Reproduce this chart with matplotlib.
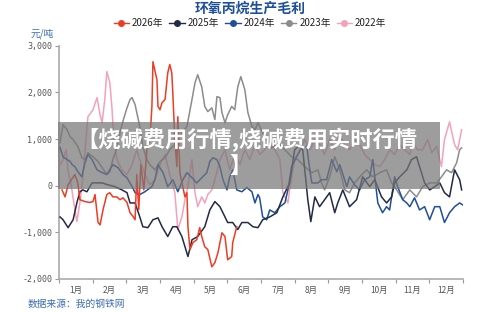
import numpy as np
import matplotlib.pyplot as plt
from matplotlib.lines import Line2D
from matplotlib.patches import Rectangle

plt.rcParams['font.family'] = ['Noto Sans CJK SC', 'DejaVu Sans']

# x positions are in months from 1 Jan (0 = start of Jan, 12 = end of Dec)
x_2026 = [0.09, 0.18, 0.27, 0.47, 0.56, 0.62, 0.77, 0.92, 1.01, 1.07, 1.16, 1.22, 1.31, 1.42, 1.51,
          1.60, 1.72, 1.81, 1.90, 2.02, 2.11, 2.20, 2.26, 2.31, 2.37, 2.43, 2.52, 2.61, 2.70, 2.76,
          2.79, 2.91, 2.94, 3.00, 3.06, 3.15, 3.23, 3.29, 3.35, 3.38, 3.44, 3.50, 3.53, 3.59, 3.74,
          3.80, 3.83, 3.89, 3.98, 4.09, 4.18, 4.24, 4.33, 4.42, 4.54, 4.63, 4.72, 4.84, 4.93, 5.01,
          5.13, 5.16, 5.28]
y_2026 = [-90, -240, 20, 240, 60, -300, -340, -360, -340, -190, -790, -840, -510, -190, -150,
          -240, -240, -300, -260, -360, -580, -660, -730, 240, -510, 450, -90, 770, 990, 1700,
          2660, 2270, 1700, 1630, 1780, 1850, 2420, 2600, 2420, 2000, 990, 410, 1480, 280, -240,
          -150, -880, -1370, -1220, -1160, -900, -1090, -1310, -1370, -1740, -1650, -1440, -1010, -1090, -1590,
          -1520, -1220, -880]

x_2025 = [0.03, 0.12, 0.27, 0.42, 0.53, 0.62, 0.71, 0.83, 0.98, 1.28, 1.45, 1.66, 1.87, 2.02, 2.11,
          2.26, 2.40, 2.49, 2.64, 2.79, 2.94, 3.06, 3.23, 3.38, 3.50, 3.65, 3.83, 3.95, 4.12, 4.33,
          4.48, 4.63, 4.78, 4.93, 5.01, 5.16, 5.31, 5.43, 5.61, 5.76, 5.91, 6.05, 6.26, 6.47, 6.65,
          6.85, 7.00, 7.15, 7.24, 7.39, 7.48, 7.60, 7.74, 7.89, 8.04, 8.19, 8.28, 8.43, 8.63, 8.84,
          9.02, 9.23, 9.38, 9.58, 9.73, 9.88, 9.97, 10.12, 10.33, 10.47, 10.62, 10.71, 10.86, 11.01, 11.16,
          11.31, 11.45, 11.60, 11.75, 11.90, 11.96]
y_2025 = [-670, -730, -900, -730, -370, -130, -90, -130, 60, 60, 20, -20, -90, -150, -370,
          -370, -670, -880, -900, -730, -690, -880, -1090, -880, -880, -1090, -1520, -1160, -1090, -880,
          -520, -340, -450, -670, -790, -790, -940, -790, -790, -880, -900, -730, -670, -580, -240,
          60, 770, 880, 770, -300, -770, -240, -450, -300, -150, -580, -370, -90, -450, -300,
          190, -20, 130, -240, -370, -240, 60, 190, 340, 560, 620, 410, 60, -90, -20,
          60, -150, -240, 340, 130, -90]

x_2024 = [0.03, 0.12, 0.24, 0.33, 0.39, 0.47, 0.56, 0.68, 0.77, 0.86, 0.98, 1.13, 1.28, 1.42, 1.60,
          1.75, 1.90, 2.02, 2.17, 2.26, 2.40, 2.55, 2.76, 2.85, 2.94, 3.09, 3.23, 3.38, 3.53, 3.68,
          3.80, 3.95, 4.09, 4.24, 4.39, 4.48, 4.57, 4.69, 4.78, 4.87, 4.99, 5.07, 5.16, 5.28, 5.43,
          5.58, 5.73, 5.82, 5.91, 5.96, 6.05, 6.17, 6.26, 6.41, 6.56, 6.71, 6.80, 6.91, 7.06, 7.21,
          7.36, 7.45, 7.51, 7.69, 7.80, 7.95, 8.10, 8.25, 8.34, 8.55, 8.63, 8.78, 8.93, 9.08, 9.23,
          9.32, 9.47, 9.61, 9.73, 9.82, 9.97, 10.06, 10.21, 10.33, 10.42, 10.56, 10.71, 10.86, 11.01, 11.16,
          11.31, 11.45, 11.60, 11.75, 11.90, 11.99]
y_2024 = [820, 620, 560, 520, 450, 410, 300, 190, 490, 670, 560, 340, 280, 240, 450,
          390, 240, 170, -20, -150, -190, -130, -20, 130, 450, 280, -20, 130, -130, 130,
          280, 170, 60, 170, 280, 520, 600, 560, 410, 130, -90, 190, 340, -90, -130,
          -40, -130, -370, -190, -260, -670, -730, -520, -580, -450, -370, -90, 410, 620, 820,
          840, 340, 60, 60, 130, 130, 560, 300, 450, -20, 190, 20, -90, 130, 190,
          560, -370, -580, -450, -520, 190, -20, -300, -370, -450, -260, -520, -450, -730, -450,
          -450, -790, -580, -450, -370, -410]

x_2023 = [0.03, 0.12, 0.24, 0.33, 0.42, 0.56, 0.68, 0.77, 0.86, 1.01, 1.16, 1.28, 1.42, 1.51, 1.60,
          1.72, 1.81, 1.93, 2.02, 2.11, 2.17, 2.26, 2.31, 2.40, 2.49, 2.61, 2.70, 2.85, 3.00, 3.15,
          3.29, 3.44, 3.53, 3.65, 3.80, 3.95, 4.04, 4.12, 4.24, 4.33, 4.42, 4.54, 4.63, 4.69, 4.78,
          4.84, 4.93, 5.01, 5.13, 5.22, 5.31, 5.40, 5.52, 5.61, 5.73, 5.82, 5.91, 6.11, 6.32, 6.50,
          6.71, 6.91, 7.09, 7.30, 7.51, 7.69, 7.80, 7.89, 8.04, 8.19, 8.34, 8.49, 8.63, 8.78, 8.93,
          9.14, 9.32, 9.53, 9.73, 9.88, 10.03, 10.21, 10.42, 10.62, 10.80, 11.01, 11.22, 11.36, 11.51, 11.66,
          11.81, 11.90, 11.96]
y_2023 = [920, 1310, 1200, 1050, 990, 840, 600, 560, 710, 620, 520, 390, 240, 300, 560,
          810, 1140, 1460, 1670, 1850, 1890, 1740, 1570, 1270, 840, 560, 450, 340, 520, 600,
          770, 880, 990, 1140, 1270, 1850, 2210, 2380, 2120, 1700, 1590, 1670, 1420, 1910, 1890,
          1570, 1350, 1520, 1700, 1630, 2120, 2340, 2060, 1570, 1270, 1200, 1350, 1050, 810, 920,
          770, 620, 560, 410, 280, 340, 60, -90, 190, 620, 340, -90, -150, 60, 190,
          340, 190, 280, 340, 60, -90, -300, -90, -240, -20, 60, 60, 190, 340, 280,
          490, 770, 810]

x_2022 = [0.03, 0.12, 0.21, 0.27, 0.36, 0.45, 0.53, 0.62, 0.71, 0.80, 0.86, 1.01, 1.13, 1.22, 1.28,
          1.36, 1.42, 1.51, 1.57, 1.63, 1.72, 1.87, 2.02, 2.17, 2.31, 2.40, 2.55, 2.70, 2.85, 3.00,
          3.15, 3.29, 3.44, 3.53, 3.65, 3.74, 3.83, 3.95, 4.04, 4.12, 4.24, 4.33, 4.42, 4.54, 4.63,
          4.78, 4.93, 5.07, 5.22, 5.37, 5.52, 5.67, 5.82, 5.96, 6.11, 6.26, 6.41, 6.56, 6.65, 6.80,
          6.85, 7.00, 7.15, 7.30, 7.45, 7.60, 7.74, 7.89, 8.04, 8.19, 8.34, 8.49, 8.63, 8.78, 8.93,
          9.08, 9.23, 9.38, 9.53, 9.67, 9.82, 9.97, 10.12, 10.27, 10.42, 10.50, 10.65, 10.80, 10.95, 11.07,
          11.22, 11.36, 11.45, 11.60, 11.75, 11.84, 11.96]
y_2022 = [450, 560, 770, 300, 20, -410, -770, -370, 190, 990, 1480, 1630, 1890, 1520, 1350,
          1850, 2450, 2210, 1700, 990, 560, 340, 240, 450, 770, 560, 240, 20, 130, 450,
          670, 240, -150, -940, -670, -300, -20, 560, -150, -450, -240, -370, -190, -90, 130,
          560, 770, 340, 670, 450, 770, 560, 880, 670, 770, 990, 770, 560, -150, -370,
          -90, 560, 770, 990, 770, 990, 880, 670, 990, 770, 1090, 880, 770, 990, 880,
          670, 560, 450, 410, 560, 770, 670, 880, 770, 670, 920, 770, 770, 990, 710,
          840, 410, 990, 1370, 880, 770, 1200]

series_names = ['2026年', '2025年', '2024年', '2023年', '2022年']
series_colors = ['#ee3b24', '#222a45', '#1f4e9c', '#8c8c8c', '#f7a1b6']
month_labels = ['1月', '2月', '3月', '4月', '5月', '6月', '7月', '8月', '9月', '10月', '11月', '12月']
y_ticks = [-2000, -1000, 0, 1000, 2000, 3000]

fig = plt.figure(figsize=(5, 3.12), dpi=100)
ax = fig.add_axes([0.118, 0.106, 0.808, 0.747])

xs = [x_2026, x_2025, x_2024, x_2023, x_2022]
ys = [y_2026, y_2025, y_2024, y_2023, y_2022]
# draw the oldest year first so the newest sits on top
for i in [4, 3, 2, 1, 0]:
    ax.plot(xs[i], ys[i], color=series_colors[i], lw=1.1, zorder=3 + (4 - i))

ax.set_xlim(0, 12)
ax.set_ylim(-2000, 3000)
ax.set_xticks(np.arange(0, 13))
ax.set_xticklabels([])
ax.set_xticks(np.arange(12) + 0.5, minor=True)
ax.set_xticklabels(month_labels, minor=True, fontsize=6, color='#555555')
ax.tick_params(axis='x', which='major', length=3, color='#999999')
ax.tick_params(axis='x', which='minor', length=0, pad=5)
ax.set_yticks(y_ticks)
ax.set_yticklabels([f'{v:,}' for v in y_ticks], fontsize=6, color='#555555',
                   family=['DejaVu Sans Mono'])
ax.tick_params(axis='y', length=3, color='#999999', pad=2)
for s in ['top', 'right']:
    ax.spines[s].set_visible(False)
ax.spines['left'].set_color('#aaaaaa')
ax.spines['bottom'].set_color('#aaaaaa')
ax.spines['left'].set_linewidth(1.2)
ax.spines['bottom'].set_linewidth(1.2)

fig.text(0.5, 0.972, '环氧丙烷生产毛利', ha='center', va='center', fontsize=10,
         fontweight='bold', color='#1d4f9e')
handles = [Line2D([0], [0], color=c, lw=1, marker='o', markersize=4) for c in series_colors]
fig.legend(handles, series_names, loc='center', bbox_to_anchor=(0.5, 0.925), ncol=5,
           frameon=False, fontsize=7, handlelength=1.6, handletextpad=0.3, columnspacing=0.6,
           labelcolor='#222222')
fig.text(0.062, 0.893, '元/吨', fontsize=7, color='#3b6cb5', va='center')
fig.text(0.056, 0.027, '数据来源：我的钢铁网', fontsize=7, color='#3b6cb5', va='center')

# overlay banner
fig.patches.append(Rectangle((0.116, 0.394), 0.764, 0.215, transform=fig.transFigure,
                             facecolor='#777777', alpha=0.72, zorder=20))
fig.text(0.152, 0.55, '【烧碱费用行情,烧碱费用实时行情', fontsize=16, fontweight='bold',
         color='white', va='center', zorder=21)
fig.text(0.458, 0.465, '】', fontsize=16, fontweight='bold', color='white', va='center', zorder=21)

fig.savefig('out.png', dpi=100)
